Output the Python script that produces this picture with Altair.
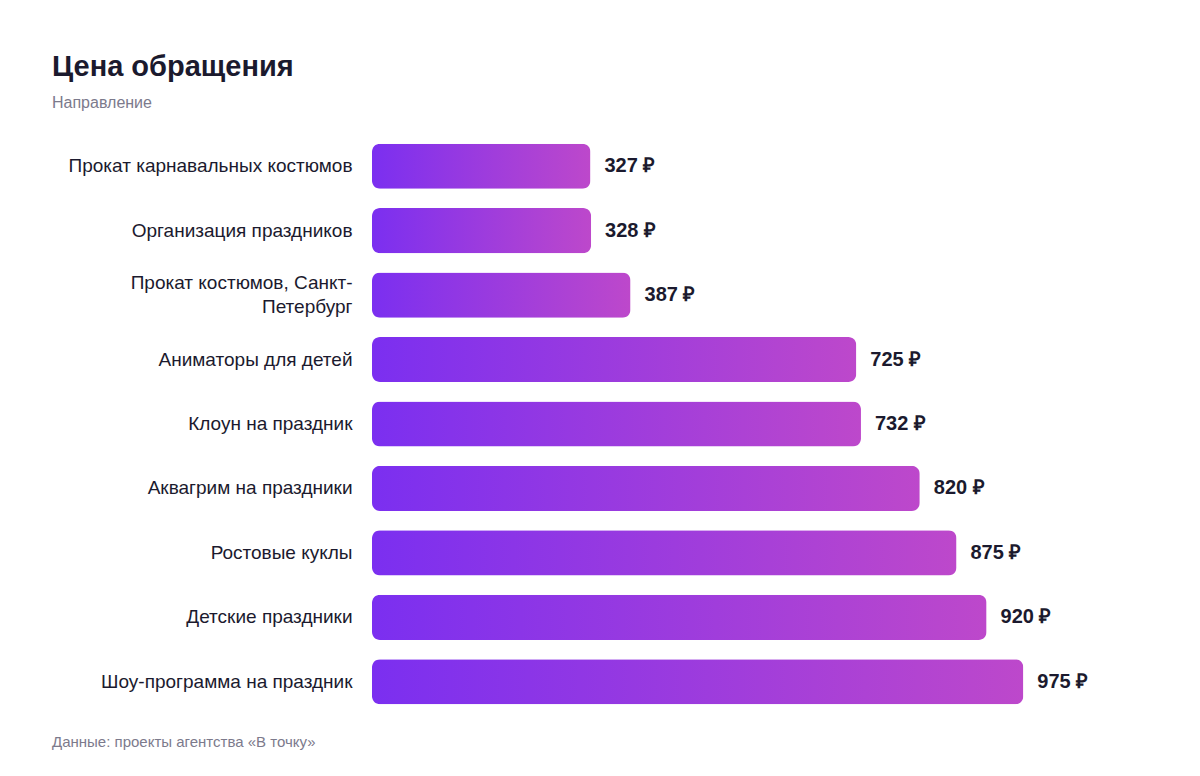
import altair as alt
import pandas as pd

# Data
categories = [
    "Прокат карнавальных костюмов",
    "Организация праздников",
    "Прокат костюмов, Санкт-\nПетербург",
    "Аниматоры для детей",
    "Клоун на праздник",
    "Аквагрим на праздники",
    "Ростовые куклы",
    "Детские праздники",
    "Шоу-программа на праздник",
]
prices = [327, 328, 387, 725, 732, 820, 875, 920, 975]

title_text = "Цена обращения"
subtitle_text = "Направление"
source_text = "Данные: проекты агентства «В точку»"

# Style
font = "Liberation Sans"
dark = "#1b1a2e"
muted = "#7c7a8c"
grad_start = "#7b2ff0"
grad_end = "#bd48cb"

df = pd.DataFrame({"cat": categories, "price": prices})
df["label"] = df["price"].astype(str) + " ₽"

y_enc = alt.Y(
    "cat:N",
    sort=None,
    title=None,
    scale=alt.Scale(paddingInner=0.3, paddingOuter=0.15),
    axis=alt.Axis(
        domain=False,
        ticks=False,
        labelPadding=20,
        labelFontSize=19,
        labelFont=font,
        labelColor=dark,
        labelLimit=400,
        labelLineHeight=24,
        labelExpr="split(datum.label, '\\n')",
        # two-line label: pull it up so both lines sit around the bar centre
        labelOffset={"condition": {"test": "indexof(datum.value, '\\n') >= 0", "value": -12}, "value": 0},
    ),
)
x_enc = alt.X("price:Q", title=None, axis=None, scale=alt.Scale(domain=[0, 1000]))

base = alt.Chart(df).encode(y=y_enc, x=x_enc)

bars = base.mark_bar(
    cornerRadius=8,
    color=alt.Gradient(
        gradient="linear",
        stops=[
            alt.GradientStop(color=grad_start, offset=0),
            alt.GradientStop(color=grad_end, offset=1),
        ],
        x1=0, x2=1, y1=0, y2=0,
    ),
)

values = base.mark_text(
    align="left",
    baseline="middle",
    dx=14,
    fontSize=20,
    fontWeight="bold",
    font=font,
    color=dark,
).encode(text="label:N")

footer = alt.Chart(pd.DataFrame({"t": [source_text]})).mark_text(
    align="left",
    baseline="middle",
    fontSize=15,
    font=font,
    color=muted,
).encode(x=alt.value(-320), y=alt.value(608), text="t:N")

chart = (bars + values + footer).properties(
    width=668,
    height=580,
    autosize=alt.AutoSizeParams(type="none"),
    padding={"left": 364, "top": 126, "right": 152, "bottom": 54},
    title=alt.TitleParams(
        text=title_text,
        subtitle=subtitle_text,
        anchor="start",
        frame="group",
        dx=-320,
        offset=23,
        font=font,
        fontSize=29,
        fontWeight="bold",
        color=dark,
        subtitleFont=font,
        subtitleFontSize=16,
        subtitleColor=muted,
        subtitlePadding=13,
    ),
).configure(background="white").configure_view(strokeWidth=0)

chart.save("out.html", embed_options={"renderer": "svg", "actions": False})
